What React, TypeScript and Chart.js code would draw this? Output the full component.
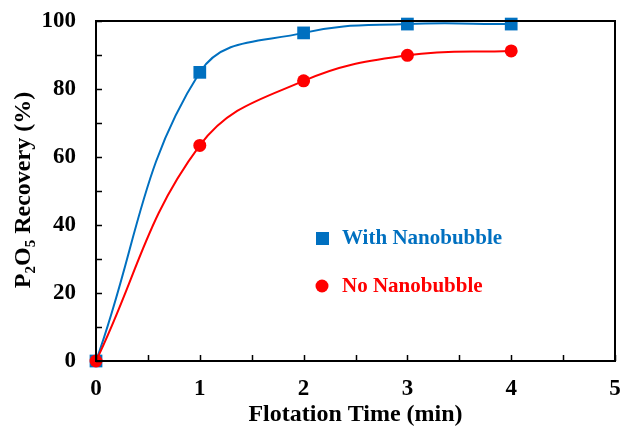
import React, { useEffect, useRef } from "react";
import { Chart, registerables } from "chart.js";

Chart.register(...registerables);

const timeMin = [0, 1, 2, 3, 4];
const withNano = [0, 84.9, 96.5, 99.1, 99.1];
const noNano = [0, 63.4, 82.4, 89.9, 91.2];
const seriesNames = ["With Nanobubble", "No Nanobubble"];
const xTitle = "Flotation Time (min)";

const BLUE = "#0070C0";
const RED = "#FF0000";
const FONT = "'Liberation Serif', 'Times New Roman', serif";

const framePlugin = {
  id: "frame",
  afterDraw(chart: any) {
    const { ctx, chartArea: a, scales } = chart;
    const xs = scales.x;
    const ys = scales.y;
    ctx.save();
    ctx.strokeStyle = "#000";
    ctx.lineWidth = 2;
    ctx.strokeRect(a.left, a.top, a.right - a.left, a.bottom - a.top);
    ctx.lineWidth = 1.5;
    ctx.beginPath();
    ys.ticks.forEach((t: any) => {
      const y = Math.round(ys.getPixelForValue(t.value)) + 0.5;
      ctx.moveTo(a.left, y);
      ctx.lineTo(a.left + 6, y);
    });
    xs.ticks.forEach((t: any) => {
      const x = Math.round(xs.getPixelForValue(t.value)) + 0.5;
      ctx.moveTo(x, a.bottom);
      ctx.lineTo(x, a.bottom - 6);
    });
    ctx.stroke();

    // x title
    ctx.fillStyle = "#000";
    ctx.font = `bold 24px ${FONT}`;
    ctx.textAlign = "center";
    ctx.textBaseline = "alphabetic";
    ctx.fillText(xTitle, (a.left + a.right) / 2, 421);

    // y title with subscripts
    ctx.save();
    ctx.translate(30, (a.top + a.bottom) / 2 - 1);
    ctx.rotate(-Math.PI / 2);
    const parts: [string, boolean][] = [
      ["P", false],
      ["2", true],
      ["O", false],
      ["5", true],
      [" Recovery (%)", false],
    ];
    const big = `bold 24px ${FONT}`;
    const small = `bold 15px ${FONT}`;
    let total = 0;
    parts.forEach(([s, sub]) => {
      ctx.font = sub ? small : big;
      total += ctx.measureText(s).width;
    });
    let cx = -total / 2;
    ctx.textAlign = "left";
    parts.forEach(([s, sub]) => {
      ctx.font = sub ? small : big;
      ctx.fillText(s, cx, sub ? 5 : 0);
      cx += ctx.measureText(s).width;
    });
    ctx.restore();

    // legend
    ctx.font = `bold 21px ${FONT}`;
    ctx.textBaseline = "middle";
    ctx.textAlign = "left";
    ctx.fillStyle = BLUE;
    ctx.fillRect(316, 232, 13, 13);
    ctx.fillText(seriesNames[0], 342, 239);
    ctx.fillStyle = RED;
    ctx.beginPath();
    ctx.arc(322, 286, 6.5, 0, Math.PI * 2);
    ctx.fill();
    ctx.fillText(seriesNames[1], 342, 287);
    ctx.restore();
  },
};

export default function App() {
  const ref = useRef<HTMLCanvasElement>(null);
  useEffect(() => {
    const chart = new Chart(ref.current!, {
      type: "line",
      data: {
        datasets: [
          {
            label: seriesNames[1],
            data: timeMin.map((t, i) => ({ x: t, y: noNano[i] })),
            borderColor: RED,
            backgroundColor: RED,
            borderWidth: 2,
            pointStyle: "circle",
            pointRadius: 6.5,
            pointBorderWidth: 0,
            tension: 0.4,
            clip: false,
          },
          {
            label: seriesNames[0],
            data: timeMin.map((t, i) => ({ x: t, y: withNano[i] })),
            borderColor: BLUE,
            backgroundColor: BLUE,
            borderWidth: 2,
            pointStyle: "rect",
            pointRadius: 9,
            pointBorderWidth: 0,
            tension: 0.4,
            clip: false,
          },
        ],
      },
      options: {
        animation: false,
        responsive: false,
        devicePixelRatio: 1,
        layout: { padding: { top: 21, right: 7, bottom: 0, left: 0 } },
        plugins: { legend: { display: false }, tooltip: { enabled: false } },
        scales: {
          x: {
            type: "linear",
            min: 0,
            max: 5,
            border: { display: false },
            grid: { display: false, drawTicks: false },
            afterFit: (s: any) => {
              s.height = 69;
              s.paddingLeft = 0;
              s.paddingRight = 0;
            },
            ticks: {
              stepSize: 0.5,
              autoSkip: false,
              maxRotation: 0,
              padding: 14,
              color: "#000",
              font: { family: FONT, size: 23, weight: "bold" },
              callback: (v: any) => (Number.isInteger(v) ? String(v) : ""),
            },
          },
          y: {
            min: 0,
            max: 100,
            border: { display: false },
            grid: { display: false, drawTicks: false },
            afterFit: (s: any) => {
              s.width = 96;
              s.paddingTop = 0;
              s.paddingBottom = 0;
            },
            ticks: {
              stepSize: 10,
              autoSkip: false,
              padding: 20,
              color: "#000",
              font: { family: FONT, size: 23, weight: "bold" },
              callback: (v: any) => (v % 20 === 0 ? String(v) : ""),
            },
          },
        },
      },
      plugins: [framePlugin],
    });
    return () => chart.destroy();
  }, []);
  return (
    <div style={{ position: "absolute", left: 0, top: 0, width: 624, height: 430, background: "#fff" }}>
      <canvas ref={ref} width={624} height={430} />
    </div>
  );
}
